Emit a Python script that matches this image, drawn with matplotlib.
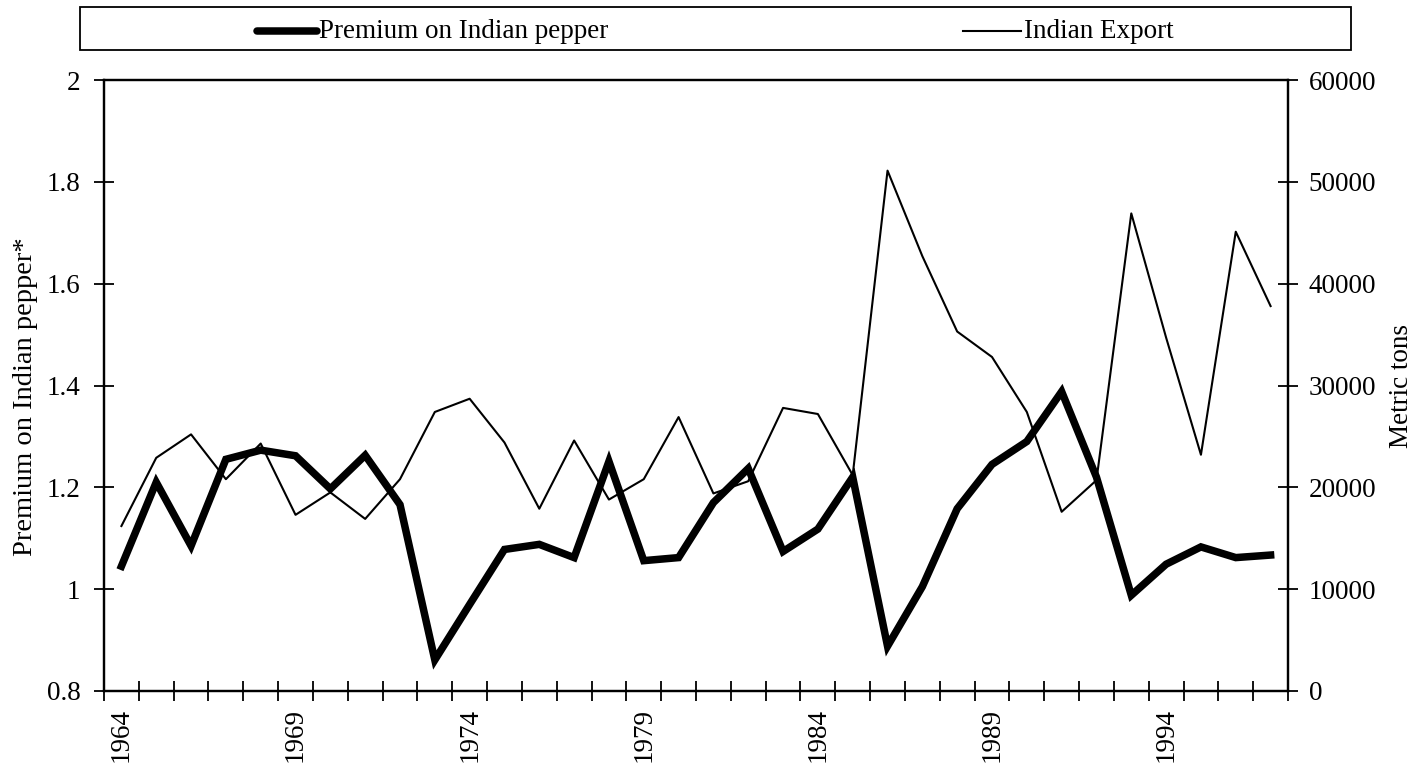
import numpy as np
import matplotlib
matplotlib.use("Agg")
import matplotlib.pyplot as plt
from matplotlib.lines import Line2D
from matplotlib.patches import Rectangle

plt.rcParams['font.family'] = ['Liberation Serif', 'DejaVu Serif']

years = list(range(1964, 1998))
premium = [1.045, 1.21, 1.085, 1.255, 1.273, 1.262, 1.197, 1.263, 1.166, 0.861,
           0.97, 1.078, 1.088, 1.062, 1.251, 1.056, 1.062, 1.17, 1.237, 1.074,
           1.118, 1.22, 0.888, 1.005, 1.158, 1.245, 1.29, 1.388, 1.22, 0.988,
           1.049, 1.083, 1.062, 1.067]
exports = [16200, 22900, 25200, 20800, 24300, 17300, 19500, 16900, 20800, 27400,
           28700, 24400, 17900, 24600, 18800, 20800, 26900, 19400, 20600, 27800,
           27200, 21200, 51100, 42700, 35300, 32800, 27400, 17600, 20700, 46900,
           34700, 23200, 45100, 37800]
left_ticks = [0.8, 1, 1.2, 1.4, 1.6, 1.8, 2]
left_labels = ["0.8", "1", "1.2", "1.4", "1.6", "1.8", "2"]
right_ticks = [0, 10000, 20000, 30000, 40000, 50000, 60000]

FS = 19.5
x = np.arange(len(years)) + 0.5

fig = plt.figure(figsize=(14.15, 7.68), dpi=100)
ax = fig.add_axes([104/1415, 1 - 691/768, (1288 - 104)/1415, (691 - 80)/768])
ax2 = ax.twinx()

ax.plot(x, premium, color='black', lw=5.4, solid_joinstyle='miter')
ax2.plot(x, exports, color='black', lw=1.5)

ax.set_xlim(0, len(years))
ax.set_ylim(0.8, 2)
ax2.set_ylim(0, 60000)

# category boundaries get the tick marks, labels sit in the middle
ax.set_xticks(np.arange(len(years) + 1))
ax.set_xticklabels([])
lab_idx = [i for i, y in enumerate(years) if (y - 1964) % 5 == 0]
ax.set_xticks(x[lab_idx], minor=True)
ax.set_xticklabels([str(years[i]) for i in lab_idx], minor=True, rotation=90, fontsize=FS)
ax.tick_params(axis='x', which='major', direction='inout', length=14, width=1.3)
ax.tick_params(axis='x', which='minor', length=0, pad=12)

ax.set_yticks(left_ticks)
ax.set_yticklabels(left_labels, fontsize=FS)
ax.tick_params(axis='y', direction='inout', length=14, width=1.3, pad=10)
ax2.set_yticks(right_ticks)
ax2.set_yticklabels([str(v) for v in right_ticks], fontsize=FS)
ax2.tick_params(axis='y', direction='inout', length=14, width=1.3, pad=8)

for a in (ax, ax2):
    for s in a.spines.values():
        s.set_linewidth(1.6)

ax.set_ylabel("Premium on Indian pepper*", fontsize=20.5, ha='center', va='center')
ax.yaxis.set_label_coords(-0.0665, 0.481)
ax2.set_ylabel("Metric tons", fontsize=FS, ha='center', va='center', rotation=90)
ax2.yaxis.set_label_coords(1.096, 0.5)

# legend box across the top
fig.add_artist(Rectangle((80/1415, 1 - 50/768), 1271/1415, 43/768,
                         transform=fig.transFigure, fill=False, lw=1.3, color='black'))
ly = 1 - 31/768
fig.add_artist(Line2D([257/1415, 317/1415], [ly, ly], transform=fig.transFigure,
                      color='black', lw=5.4, solid_capstyle='round'))
fig.text(319/1415, ly, "Premium on Indian pepper", fontsize=FS, va='center', ha='left')
fig.add_artist(Line2D([963/1415, 1021/1415], [ly, ly], transform=fig.transFigure,
                      color='black', lw=1.5))
fig.text(1024/1415, ly, "Indian Export", fontsize=FS, va='center', ha='left')

fig.savefig("out.png", dpi=100)
